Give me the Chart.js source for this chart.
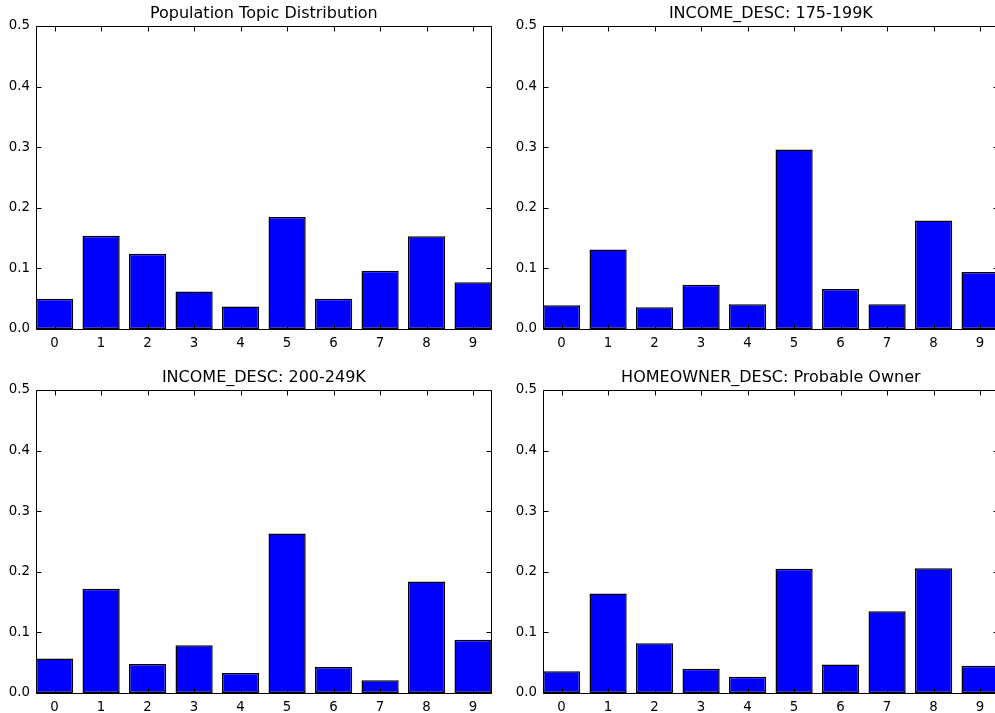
<!DOCTYPE html>
<html>
<head>
<meta charset="utf-8">
<script src="https://cdn.jsdelivr.net/npm/chart.js@4/dist/chart.umd.min.js"></script>
<style>
  html, body { margin: 0; padding: 0; background: #fff; overflow: hidden; }
  body { width: 995px; height: 713px; position: relative; }
  canvas { position: absolute; }
</style>
</head>
<body>
<canvas id="c0" width="500" height="360" style="left:0px;top:0px"></canvas>
<canvas id="c1" width="500" height="360" style="left:507px;top:0px"></canvas>
<canvas id="c2" width="500" height="360" style="left:0px;top:364px"></canvas>
<canvas id="c3" width="500" height="360" style="left:507px;top:364px"></canvas>
<script>
// topics on the x axis, shares on the y axis
const topics = [0, 1, 2, 3, 4, 5, 6, 7, 8, 9];
const yTicks = [0, 0.1, 0.2, 0.3, 0.4, 0.5];

const titles = [
  'Population Topic Distribution',
  'INCOME_DESC: 175-199K',
  'INCOME_DESC: 200-249K',
  'HOMEOWNER_DESC: Probable Owner'
];

const populationValues = [0.050, 0.154, 0.124, 0.062, 0.037, 0.185, 0.050, 0.096, 0.153, 0.077];
const income175Values  = [0.039, 0.131, 0.036, 0.073, 0.041, 0.296, 0.066, 0.041, 0.179, 0.094];
const income200Values  = [0.057, 0.172, 0.048, 0.079, 0.033, 0.263, 0.043, 0.021, 0.184, 0.088];
const homeownerValues  = [0.036, 0.164, 0.082, 0.040, 0.027, 0.205, 0.047, 0.135, 0.206, 0.045];

const allValues = [populationValues, income175Values, income200Values, homeownerValues];

Chart.defaults.font.family = 'DejaVu Sans';
Chart.defaults.font.size = 13.33;
Chart.defaults.color = '#000';

// matplotlib-like box with ticks pointing inside
const mplFrame = {
  id: 'mplFrame',
  afterDatasetsDraw(chart) {
    const ctx = chart.ctx;
    const a = chart.chartArea;
    const x = chart.scales.x;
    const y = chart.scales.y;
    const L = Math.round(a.left) + 0.5;
    const R = Math.round(a.right) - 0.5;
    const T = Math.round(a.top) + 0.5;
    const B = Math.round(a.bottom) + 0.5;
    ctx.save();
    ctx.strokeStyle = '#000';
    ctx.lineWidth = 1;
    ctx.beginPath();
    ctx.rect(L, T, R - L, B - T);
    topics.forEach(v => {
      const px = Math.round(x.getPixelForValue(v)) + 0.5;
      ctx.moveTo(px, B); ctx.lineTo(px, B - 5);
      ctx.moveTo(px, T); ctx.lineTo(px, T + 5);
    });
    yTicks.forEach(v => {
      const py = Math.round(y.getPixelForValue(v)) + 0.5;
      ctx.moveTo(L, py); ctx.lineTo(L + 5, py);
      ctx.moveTo(R, py); ctx.lineTo(R - 5, py);
    });
    ctx.stroke();
    ctx.restore();
  }
};

allValues.forEach((values, i) => {
  new Chart(document.getElementById('c' + i), {
    type: 'bar',
    data: {
      datasets: [{
        data: values.map((v, k) => ({ x: topics[k], y: v })),
        backgroundColor: '#0000ff',
        borderColor: '#000',
        borderWidth: 1.5,
        borderSkipped: false,
        categoryPercentage: 1,
        barPercentage: 0.8
      }]
    },
    options: {
      responsive: false,
      animation: false,
      events: [],
      layout: { padding: { left: 0, right: 8.3, top: 0, bottom: 0 } },
      plugins: {
        legend: { display: false },
        tooltip: { enabled: false },
        title: {
          display: true,
          text: titles[i],
          fullSize: false,
          color: '#000',
          font: { family: 'DejaVu Sans', size: 16, weight: 'normal' },
          padding: { top: 4, bottom: 2.8 }
        }
      },
      scales: {
        x: {
          type: 'linear',
          offset: false,
          min: -0.4,
          max: 9.4,
          afterBuildTicks: s => { s.ticks = topics.map(v => ({ value: v })); },
          afterFit: s => { s.height = 31; },
          grid: { display: false, drawTicks: false, offset: false },
          border: { display: false },
          ticks: { padding: 7, maxRotation: 0, autoSkip: false, callback: v => String(v) }
        },
        y: {
          min: 0,
          max: 0.5,
          afterBuildTicks: s => { s.ticks = yTicks.map(v => ({ value: v })); },
          afterFit: s => { s.width = 36; },
          grid: { display: false, drawTicks: false },
          border: { display: false },
          ticks: { padding: 6, callback: v => v.toFixed(1) }
        }
      }
    },
    plugins: [mplFrame]
  });
});
</script>
</body>
</html>
